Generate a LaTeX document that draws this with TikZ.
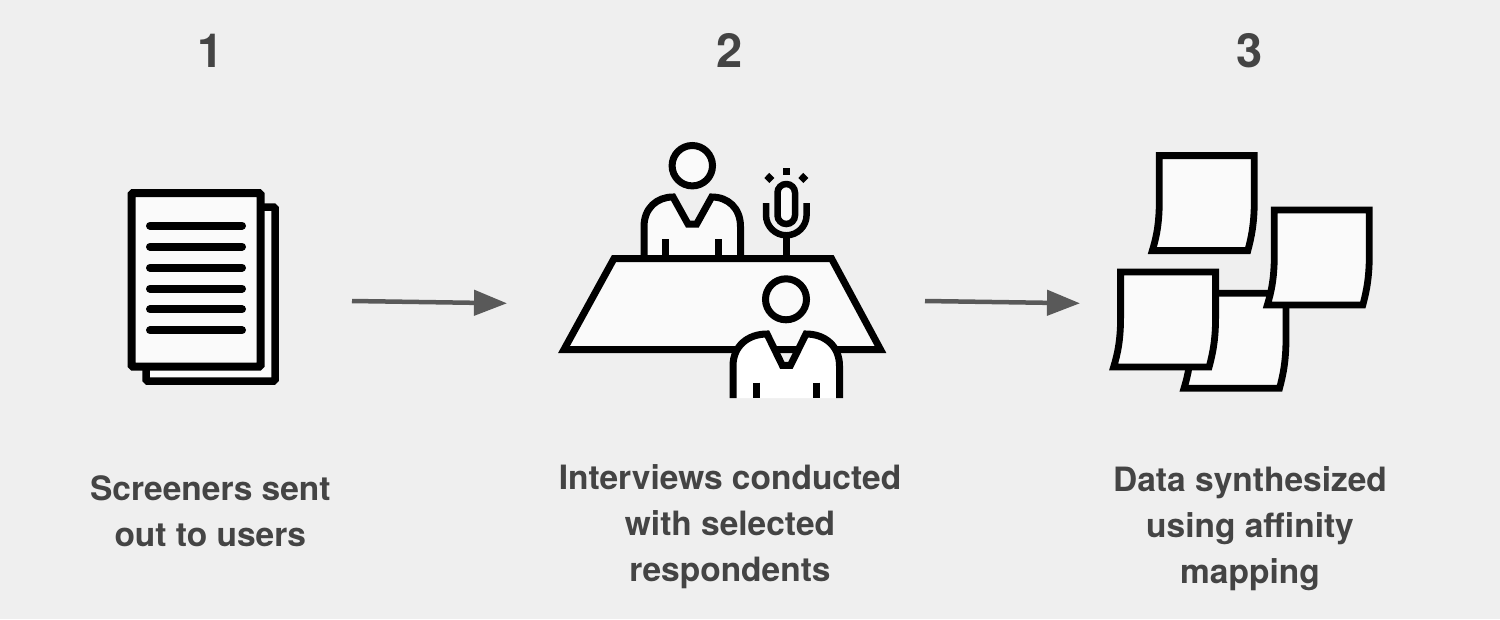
\documentclass[tikz,border=0pt]{standalone}
\usepackage{fontspec}
\setmainfont{TeX Gyre Heros}
\usetikzlibrary{arrows.meta}
\definecolor{bg}{HTML}{EFEFEF}
\definecolor{paper}{HTML}{FAFAFA}
\definecolor{ink}{HTML}{444444}
\definecolor{arrowc}{HTML}{595959}
\tikzset{
  icon/.style={draw=black,fill=paper,line width=7.5pt,line join=miter},
  iconline/.style={draw=black,line width=7pt,line cap=butt},
  textline/.style={draw=black,line width=8pt,line cap=round},
  flow/.style={draw=arrowc,line width=4.5pt,-{Triangle[length=33pt,width=25pt,fill=arrowc]}},
  stepnum/.style={font=\fontsize{47}{50}\selectfont\bfseries,text=ink,inner sep=0pt,anchor=center},
  caption/.style={font=\fontsize{33.5}{46}\selectfont\bfseries,text=ink,align=center,inner sep=0pt,anchor=center},
  note/.pic={
    \path[icon,line width=6.8pt] (0,0) -- (95,0) -- (95,45) .. controls (95,68) and (92,82) .. (88.5,95)
      -- (-7,95) .. controls (-3,82) and (0,68) .. (0,45) -- cycle;
  }
}
\begin{document}
\begin{tikzpicture}[x=1pt,y=-1pt]
\useasboundingbox (0,0) rectangle (1500,619);
\fill[bg] (0,0) rectangle (1500,619);

% numbers
\node[stepnum] (n1) at (210.5,50.5) {1};
\node[stepnum] (n2) at (730,50.5) {2};
\node[stepnum] (n3) at (1249.5,50.5) {3};

% captions
\node[caption] (c1) at (210.3,511) {Screeners sent\\out to users};
\node[caption] (c2) at (730,527) {Interviews conducted\\with selected\\respondents};
\node[caption] (c3) at (1250,529) {Data synthesized\\using affinity\\mapping};

% documents
\draw[icon,rounded corners=1.5pt] (146,207) rectangle (275,381);
\draw[icon,line width=8pt,rounded corners=1.5pt] (131.5,193) rectangle (260.5,366.7);
\foreach \yy in {225.7,246.7,267.7,288.7,309.3,330.3}
  \draw[textline] (150,\yy) -- (242,\yy);

% back person
\draw[icon,line width=7pt] (692.3,165.7) circle (20.2pt);
\draw[icon,line width=7pt] (644,259) -- (644,226.7) .. controls (644,208) and (657,197) .. (673,197)
  -- (688,224) -- (696.7,224) -- (711.7,197) .. controls (728,197) and (740.5,208) .. (740.5,226.7) -- (740.5,259);
\draw[iconline] (665,239) -- (665,256);
\draw[iconline] (718.3,239) -- (718.3,256);

% microphone
\draw[iconline,line width=6.5pt] (766,203) -- (766,215) arc[start angle=180,end angle=0,x radius=20.3pt,y radius=-20.3pt] -- (806.6,203);
\draw[iconline,line width=6.5pt] (786.3,236) -- (786.3,256);
\draw[icon,line width=6.5pt,rounded corners=8.7pt] (777.5,184) rectangle (795,224);
\fill[black] (782.7,167.5) rectangle (789.7,174.7);
\fill[black] (769.3,172.8) -- (774.3,178) -- (769.3,183) -- (764.3,178) -- cycle;
\fill[black] (803.3,172.8) -- (808.3,178) -- (803.3,183) -- (798.3,178) -- cycle;

% table
\draw[icon,line width=7pt] (614,258.5) -- (831.5,258.5) -- (880.5,349.5) -- (564,349.5) -- cycle;

% front person
\draw[icon,line width=7pt] (786,299.3) circle (20.5pt);
\path[fill=white] (732,398) -- (732,363) .. controls (732,345) and (748,333.5) .. (767,333.5)
  -- (782,366.7) -- (791,366.7) -- (805,333.5) .. controls (825,333.5) and (840,345) .. (840,363) -- (840,398) -- cycle;
\draw[iconline] (733,398) -- (733,366) .. controls (733,346) and (748,334) .. (767,334)
  -- (782.3,365.3) -- (790.5,365.3) -- (806,334) .. controls (825,334) and (839.5,346) .. (839.5,366) -- (839.5,398);
\draw[iconline] (756.7,382.7) -- (756.7,398);
\draw[iconline] (816.3,382.7) -- (816.3,398);

% sticky notes
\pic at (1191,293.3) {note};
\pic at (1120.6,272) {note};
\pic at (1274.3,210) {note};
\pic at (1159.3,155.6) {note};

% arrows
\coordinate (a1s) at (352,301);
\coordinate (a1e) at (507,303.3);
\coordinate (a2s) at (925,301);
\coordinate (a2e) at (1080,303.3);
\draw[flow] (a1s) -- (a1e);
\draw[flow] (a2s) -- (a2e);
\end{tikzpicture}
\end{document}
